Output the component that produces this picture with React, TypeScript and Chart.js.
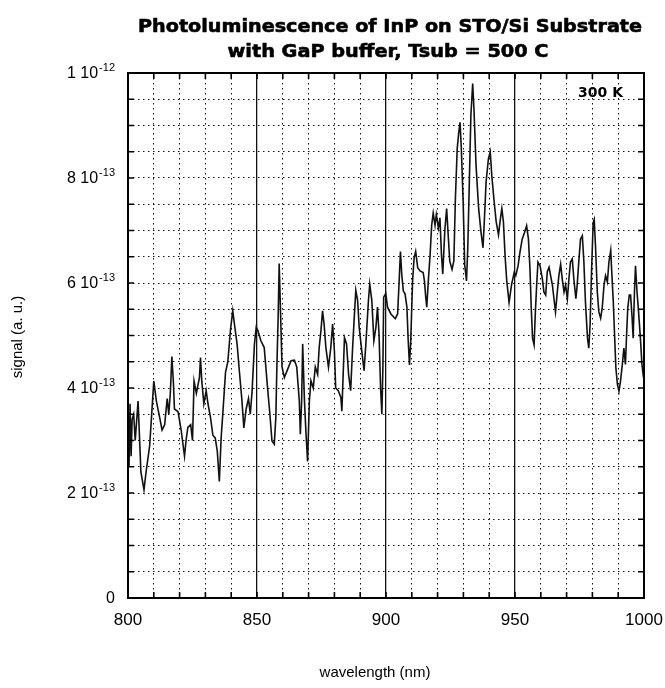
import React, { useEffect, useRef } from "react";
import { Chart, registerables } from "chart.js";

Chart.register(...registerables);

// ---------- text ----------
const TITLE_LINE_1 = "Photoluminescence of InP on STO/Si Substrate";
const TITLE_LINE_2 = "with GaP buffer, Tsub = 500 C";
const X_TITLE = "wavelength (nm)";
const Y_TITLE = "signal (a. u.)";
const ANNOTATION = "300 K";

// ---------- axes ----------
const X_MIN = 800;
const X_MAX = 1000;
const X_STEP = 10;
const X_LABEL_STEP = 50;
// y axis is expressed in units of 1e-13
const Y_MIN = 0;
const Y_MAX = 10;
const Y_STEP = 0.5;
const yTickValues = [0, 2, 4, 6, 8, 10];
const yTickMantissas = ["0", "2 10", "4 10", "6 10", "8 10", "1 10"];
const yTickExponents = ["", "-13", "-13", "-13", "-13", "-12"];

// ---------- data (signal in units of 1e-13 a.u.) ----------
const wavelength = [
  800.0, 800.4, 800.8, 801.2, 801.6, 802.2, 802.8, 803.9, 805.0, 806.2, 807.0, 808.4, 810.0, 811.0, 812.3,
  813.2, 814.2, 815.2, 815.8, 816.4, 817.0, 817.6, 818.0, 819.4, 820.6, 821.9, 822.5, 823.2, 824.3, 825.0,
  825.6, 826.5, 827.7, 828.1, 828.6, 829.4, 830.3, 831.0, 832.0, 832.9, 833.8, 834.6, 835.4, 836.1, 836.8,
  837.8, 838.7, 839.7, 840.6, 841.3, 842.3, 843.2, 844.1, 844.9, 845.8, 846.7, 847.4, 848.1, 849.0, 849.7,
  850.3, 851.5, 852.8, 854.1, 855.0, 855.8, 856.7, 857.3, 857.7, 858.2, 858.6, 859.0, 859.7, 860.6, 861.9,
  863.2, 864.5, 865.4, 866.4, 866.8, 867.3, 867.7, 868.4, 869.0, 869.6, 870.3, 870.9, 871.8, 872.6, 873.5,
  874.1, 874.8, 875.4, 876.0, 876.7, 877.7, 878.6, 879.3, 880.0, 880.5, 881.5, 882.5, 882.9, 883.4, 883.9,
  884.7, 885.5, 886.3, 887.0, 887.7, 888.3, 889.0, 889.6, 890.6, 891.5, 892.2, 893.2, 893.7, 894.5, 895.3,
  896.1, 896.7, 897.3, 897.9, 898.4, 898.8, 899.1, 899.9,
  900.6, 901.9, 903.6, 904.5, 905.1, 905.6, 906.1, 906.7, 907.4, 908.1, 908.6, 909.1, 909.6, 910.3, 910.9,
  911.5, 912.3, 913.2, 914.4, 914.9, 915.4, 915.8, 916.4, 917.1, 917.7, 918.3, 919.0, 919.5, 920.3, 920.9,
  921.5, 922.0, 922.8, 923.5, 924.1, 924.7, 925.6, 926.3, 926.9, 927.6, 928.2, 928.7, 929.2, 929.9, 930.5,
  931.2, 931.7, 932.3, 932.9, 933.6, 934.1, 934.9, 935.9, 936.8, 937.6, 938.1, 938.8, 939.7, 940.4, 941.0,
  941.8, 942.7, 943.6, 944.2, 944.9, 945.5, 946.2, 946.8, 947.7, 948.7, 949.7,
  950.3, 951.2, 951.9, 952.8, 953.7, 954.5, 955.2, 955.8, 956.3, 956.8, 957.4, 957.9, 958.4, 958.9, 959.7,
  960.6, 961.2, 961.9, 962.5, 963.2, 963.8, 964.5, 965.1, 965.7, 966.4, 967.0, 967.7, 968.3, 969.0, 969.6,
  970.3, 970.9, 971.5, 972.2, 972.8, 973.6, 974.1, 974.8, 975.4, 976.1, 976.7, 977.3, 978.1, 978.6, 979.1,
  979.7, 980.3, 980.7, 981.2, 981.9, 982.5, 983.2, 983.8, 984.5, 985.1, 985.8, 986.4, 987.1, 987.5, 988.1,
  988.6, 989.1, 989.7, 990.3, 990.9, 991.6, 992.2, 992.8, 993.2, 993.7, 994.3, 994.8, 995.4, 995.8, 996.3,
  996.7, 997.3, 997.9, 998.6, 999.2, 999.8, 1000.0,
];

const signalE13 = [
  3.6, 2.5, 3.7, 2.7, 3.4, 3.5, 3.0, 3.75, 2.4, 2.06, 2.4, 2.9, 4.13, 3.75, 3.43,
  3.2, 3.3, 3.8, 3.5, 3.9, 4.6, 4.1, 3.6, 3.55, 3.2, 2.7, 3.0, 3.25, 3.3, 3.0,
  4.13, 3.9, 4.2, 4.58, 4.13, 3.7, 3.95, 3.7, 3.43, 3.1, 3.05, 2.8, 2.22, 3.05, 3.55,
  4.3, 4.5, 5.1, 5.47, 5.2, 4.83, 4.3, 3.8, 3.24, 3.6, 3.8, 3.5, 3.94, 4.83, 5.16,
  5.1, 4.9, 4.77, 4.0, 3.5, 2.99, 2.93, 3.44, 4.4, 5.35, 6.37, 5.67, 4.4, 4.2, 4.36,
  4.52, 4.53, 4.4, 3.75, 3.12, 3.75, 4.84, 3.75, 3.12, 2.6, 3.75, 4.14, 4.0, 4.4, 4.26,
  4.77, 5.1, 5.47, 5.22, 4.77, 4.4, 4.77, 5.22, 4.71, 4.0, 3.95, 3.82, 3.56, 4.26, 4.96,
  4.84, 4.26, 3.95, 4.71, 5.35, 5.86, 5.67, 5.16, 4.71, 4.33, 4.84, 5.67, 5.98, 5.67, 4.9,
  5.16, 5.54, 5.03, 4.0, 3.5, 4.4, 5.73, 5.8,
  5.54, 5.41, 5.32, 5.41, 6.04, 6.6, 6.17, 5.85, 5.79, 5.54, 4.91, 4.44, 4.91, 6.04, 6.48,
  6.6, 6.29, 6.23, 6.2, 6.04, 5.73, 5.54, 6.04, 6.54, 7.1, 7.33, 7.1, 7.3, 7.05, 7.24,
  6.54, 6.17, 7.0, 7.42, 6.92, 6.42, 6.26, 6.42, 7.61, 8.56, 8.87, 9.06, 8.56, 7.55, 6.35,
  6.04, 6.67, 7.93, 9.19, 9.8, 9.31, 8.24, 7.42, 6.98, 6.67, 7.17, 7.93, 8.37, 8.5, 8.05,
  7.61, 7.17, 6.92, 7.17, 7.42, 7.17, 6.48, 6.04, 5.63, 5.98, 6.2,
  6.14, 6.33, 6.58, 6.84, 6.96, 7.09, 6.84, 6.27, 5.52, 4.95, 4.82, 5.45, 5.96, 6.4, 6.33,
  6.08, 5.83, 5.77, 6.21, 6.3, 6.14, 5.96, 5.7, 5.45, 5.83, 6.14, 6.36, 6.08, 5.83, 5.96,
  5.7, 6.08, 6.4, 6.46, 6.08, 5.7, 5.96, 6.46, 6.84, 6.9, 6.4, 5.64, 4.95, 4.76, 5.2,
  6.27, 7.15, 7.21, 6.71, 5.83, 5.45, 5.33, 5.52, 5.96, 6.14, 6.02, 6.4, 6.62, 6.21, 5.64,
  5.01, 4.38, 4.07, 3.94, 4.13, 4.45, 4.76, 4.45, 4.95, 5.52, 5.77, 5.77, 5.33, 4.95, 5.83,
  6.33, 5.83, 5.45, 4.95, 4.45, 4.2, 4.5,
];

const INK = "#000";
const SANS = "'Liberation Sans', Arial, Helvetica, sans-serif";
const HEAVY = "'DejaVu Sans', 'Liberation Sans', sans-serif";

function drawFitted(ctx: CanvasRenderingContext2D, text: string, cx: number, baseline: number, targetW: number) {
  const w = ctx.measureText(text).width || 1;
  const s = targetW / w;
  ctx.save();
  ctx.translate(cx, baseline);
  ctx.scale(s, 1);
  ctx.textAlign = "center";
  ctx.textBaseline = "alphabetic";
  ctx.lineWidth = 0.6;
  ctx.strokeStyle = INK;
  ctx.fillText(text, 0, 0);
  ctx.strokeText(text, 0, 0);
  ctx.restore();
}

const decorPlugin = {
  id: "decor",
  afterDraw(chart: any) {
    const { ctx, chartArea: a, scales } = chart;
    const xs = scales.x;
    const ys = scales.y;
    ctx.save();

    // frame
    ctx.strokeStyle = INK;
    ctx.lineWidth = 2;
    ctx.strokeRect(a.left, a.top, a.right - a.left, a.bottom - a.top);

    // inward ticks on all four sides
    const TL = 6;
    ctx.lineWidth = 1.6;
    ctx.beginPath();
    xs.ticks.forEach((t: any) => {
      const px = xs.getPixelForValue(t.value);
      ctx.moveTo(px, a.bottom);
      ctx.lineTo(px, a.bottom - TL);
      ctx.moveTo(px, a.top);
      ctx.lineTo(px, a.top + TL);
    });
    ys.ticks.forEach((t: any) => {
      const py = ys.getPixelForValue(t.value);
      ctx.moveTo(a.left, py);
      ctx.lineTo(a.left + TL, py);
      ctx.moveTo(a.right, py);
      ctx.lineTo(a.right - TL, py);
    });
    ctx.stroke();

    // y tick labels with superscript exponents
    ctx.fillStyle = INK;
    const rightEdge = a.left - 13;
    yTickValues.forEach((v, i) => {
      const py = ys.getPixelForValue(v);
      const mant = yTickMantissas[i];
      const exp = yTickExponents[i];
      ctx.font = `11px ${SANS}`;
      const ew = exp ? ctx.measureText(exp).width : 0;
      if (exp) {
        ctx.textAlign = "right";
        ctx.textBaseline = "alphabetic";
        ctx.fillText(exp, rightEdge, py - 2);
      }
      ctx.font = `16px ${SANS}`;
      ctx.textAlign = "right";
      ctx.textBaseline = "middle";
      ctx.fillText(mant, rightEdge - ew - (exp ? 1 : 0), py + 1);
    });

    // title
    ctx.fillStyle = INK;
    ctx.font = `bold 18px ${HEAVY}`;
    drawFitted(ctx, TITLE_LINE_1, 390, 32, 504);
    drawFitted(ctx, TITLE_LINE_2, 388, 57, 321);

    // annotation
    ctx.font = `bold 14px ${HEAVY}`;
    ctx.textAlign = "right";
    ctx.textBaseline = "alphabetic";
    ctx.fillText(ANNOTATION, 623, 97);

    // axis titles
    ctx.font = `15px ${SANS}`;
    ctx.textAlign = "center";
    ctx.textBaseline = "middle";
    ctx.fillText(X_TITLE, 375, 673);
    ctx.save();
    ctx.translate(18, 337);
    ctx.rotate(-Math.PI / 2);
    ctx.fillText(Y_TITLE, 0, 0);
    ctx.restore();

    ctx.restore();
  },
};

export default function App() {
  const canvasRef = useRef<HTMLCanvasElement | null>(null);

  useEffect(() => {
    const canvas = canvasRef.current;
    if (!canvas) return;
    const points = wavelength.map((x, i) => ({ x, y: signalE13[i] }));
    const isMajor = (c: any) => c && c.tick && Math.abs(c.tick.value % X_LABEL_STEP) < 1e-6;

    const chart = new Chart(canvas, {
      type: "line",
      data: {
        datasets: [
          {
            data: points,
            borderColor: "#111",
            borderWidth: 1.6,
            pointRadius: 0,
            tension: 0,
            fill: false,
          },
        ],
      },
      options: {
        responsive: false,
        animation: false,
        devicePixelRatio: 1,
        parsing: false,
        normalized: true,
        layout: { padding: { left: 0, top: 73, right: 21, bottom: 0 } },
        plugins: {
          legend: { display: false },
          title: { display: false },
          tooltip: { enabled: false },
        },
        scales: {
          x: {
            type: "linear",
            min: X_MIN,
            max: X_MAX,
            afterFit: (s: any) => {
              s.height = 90;
              s.paddingLeft = 0;
              s.paddingRight = 0;
            },
            ticks: {
              stepSize: X_STEP,
              autoSkip: false,
              maxRotation: 0,
              padding: 12,
              color: INK,
              font: { family: SANS, size: 17 },
              callback: (v: any) => (Number(v) % X_LABEL_STEP === 0 ? String(v) : ""),
            },
            grid: {
              color: "#111",
              lineWidth: (c: any) => (isMajor(c) ? 1.3 : 1),
              drawTicks: false,
            },
            border: {
              display: false,
              dash: (c: any) => (isMajor(c) ? [] : [1.5, 3.5]),
            },
          },
          y: {
            type: "linear",
            min: Y_MIN,
            max: Y_MAX,
            afterFit: (s: any) => {
              s.width = 128;
              s.paddingTop = 0;
              s.paddingBottom = 0;
            },
            ticks: {
              stepSize: Y_STEP,
              display: false,
            },
            grid: {
              color: "#111",
              lineWidth: 1,
              drawTicks: false,
            },
            border: {
              display: false,
              dash: [1.5, 3.5],
            },
          },
        },
      },
      plugins: [decorPlugin],
    });

    return () => chart.destroy();
  }, []);

  return (
    <div style={{ position: "absolute", left: 0, top: 0, width: 665, height: 688, background: "#fff" }}>
      <canvas ref={canvasRef} width={665} height={688} style={{ display: "block", width: 665, height: 688 }} />
    </div>
  );
}
